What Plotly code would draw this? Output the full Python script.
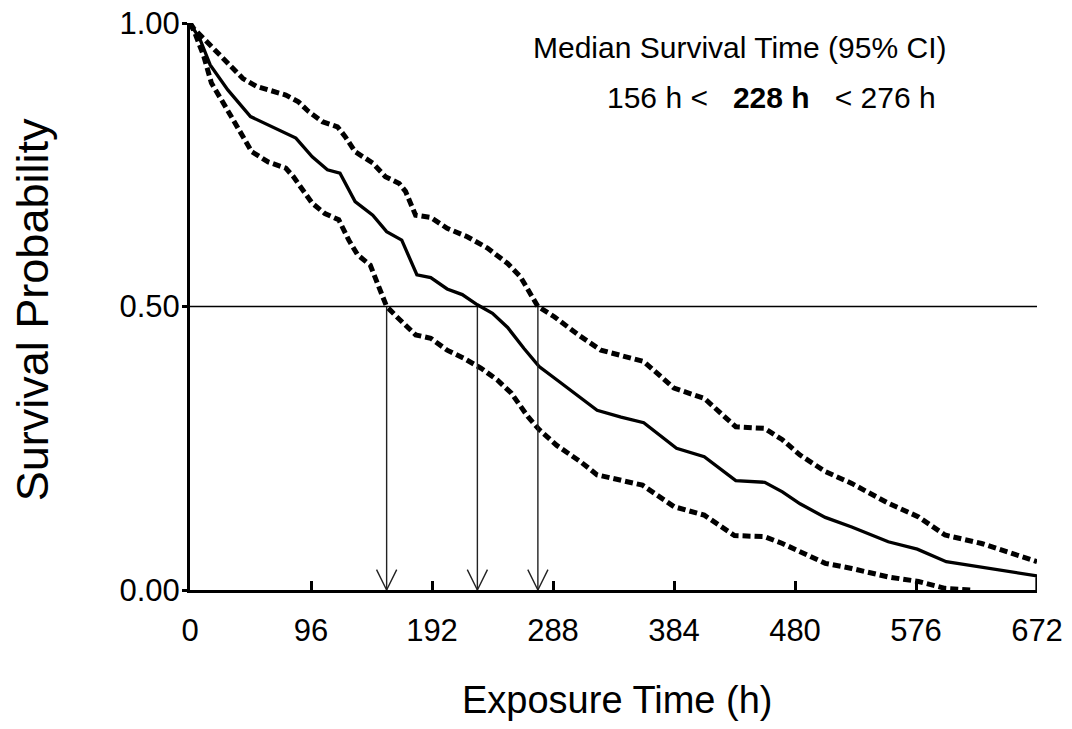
import plotly.graph_objects as go

# ---------------- data ----------------
x_ticks = [0, 96, 192, 288, 384, 480, 576, 672]
y_ticks = [0.0, 0.5, 1.0]
y_tick_labels = ["0.00", "0.50", "1.00"]

median_t = [0, 8, 16, 30, 48, 68, 84, 97, 109, 119, 131, 145, 156, 168, 180, 191, 204, 216,
            228, 240, 252, 265, 277, 292, 305, 323, 342, 360, 386, 408, 433, 456, 470, 484,
            504, 525, 554, 577, 600, 672, 672]
median_s = [1.0, 0.971, 0.926, 0.882, 0.835, 0.814, 0.797, 0.764, 0.741, 0.735, 0.685, 0.661,
            0.632, 0.617, 0.556, 0.551, 0.531, 0.521, 0.503, 0.488, 0.463, 0.426, 0.394, 0.369,
            0.347, 0.317, 0.305, 0.295, 0.250, 0.235, 0.193, 0.190, 0.173, 0.152, 0.128, 0.111,
            0.085, 0.072, 0.050, 0.025, 0.0]

upper_t = [0, 3, 12, 25, 42, 53, 65, 76, 86, 94, 105, 117, 123, 131, 145, 155, 166, 171, 179,
           191, 204, 220, 236, 252, 262, 276, 289, 308, 326, 345, 360, 384, 408, 433, 456, 470,
           484, 504, 525, 554, 578, 599, 628, 672]
upper_s = [1.0, 0.990, 0.970, 0.941, 0.902, 0.888, 0.879, 0.873, 0.861, 0.844, 0.826, 0.817,
           0.800, 0.773, 0.753, 0.729, 0.717, 0.703, 0.661, 0.657, 0.638, 0.623, 0.603, 0.576,
           0.553, 0.500, 0.482, 0.450, 0.423, 0.411, 0.403, 0.356, 0.338, 0.288, 0.285, 0.265,
           0.238, 0.209, 0.188, 0.153, 0.129, 0.097, 0.082, 0.050]

lower_t = [0, 4, 11, 17, 28, 40, 49, 62, 76, 82, 89, 97, 107, 118, 126, 133, 143, 150, 156,
           164, 179, 191, 204, 217, 231, 244, 255, 268, 277, 291, 310, 323, 342, 359, 384, 408,
           432, 456, 470, 484, 504, 525, 554, 578, 599, 620]
lower_s = [1.0, 0.982, 0.941, 0.894, 0.853, 0.806, 0.773, 0.755, 0.744, 0.729, 0.706, 0.682,
           0.664, 0.653, 0.617, 0.591, 0.573, 0.535, 0.500, 0.482, 0.450, 0.444, 0.423, 0.409,
           0.391, 0.370, 0.347, 0.306, 0.283, 0.255, 0.226, 0.203, 0.194, 0.185, 0.147, 0.132,
           0.096, 0.094, 0.082, 0.068, 0.047, 0.038, 0.023, 0.015, 0.003, 0.0]

median_time = 228
ci_low = 156
ci_high = 276
median_level = 0.5

# ---------------- figure ----------------
SANS = "Liberation Sans, Arial, Helvetica, sans-serif"

fig = go.Figure()

fig.add_trace(go.Scatter(x=upper_t, y=upper_s, mode="lines", cliponaxis=False,
                         line=dict(color="black", width=5, dash="8px,4px"), hoverinfo="skip"))
fig.add_trace(go.Scatter(x=lower_t, y=lower_s, mode="lines", cliponaxis=False,
                         line=dict(color="black", width=5, dash="8px,4px"), hoverinfo="skip"))
fig.add_trace(go.Scatter(x=median_t, y=median_s, mode="lines", cliponaxis=False,
                         line=dict(color="black", width=3.3), hoverinfo="skip"))

# horizontal reference line at 0.5
fig.add_shape(type="line", xref="x", yref="y", x0=0, x1=x_ticks[-1] + 4,
              y0=median_level, y1=median_level, line=dict(color="black", width=1.3))

# vertical arrows with open heads
head_dx = 8
head_dy = 0.036
for m in [ci_low, median_time, ci_high]:
    fig.add_trace(go.Scatter(x=[m, m], y=[median_level, 0], mode="lines", cliponaxis=False,
                             line=dict(color="#222", width=1.4), hoverinfo="skip"))
    fig.add_trace(go.Scatter(x=[m - head_dx, m, m + head_dx], y=[head_dy, 0, head_dy],
                             mode="lines", cliponaxis=False,
                             line=dict(color="#222", width=1.4), hoverinfo="skip"))

fig.add_annotation(xref="paper", yref="paper", x=0.649, y=0.956,
                   xanchor="center", yanchor="middle",
                   text="Median Survival Time (95% CI)", showarrow=False,
                   font=dict(family=SANS, size=30, color="black"))
fig.add_annotation(xref="paper", yref="paper", x=0.687, y=0.869,
                   xanchor="center", yanchor="middle",
                   text=f"{ci_low} h &lt;   <b>{median_time} h</b>   &lt; {ci_high} h",
                   showarrow=False,
                   font=dict(family=SANS, size=30, color="black"))

# axis titles
fig.add_annotation(xref="paper", yref="paper", x=0.504, y=-0.194,
                   xanchor="center", yanchor="middle",
                   text="Exposure Time (h)", showarrow=False,
                   font=dict(family=SANS, size=38, color="black"))
fig.add_annotation(xref="paper", yref="paper", x=-0.185, y=0.494, xanchor="center",
                   yanchor="middle", textangle=-90,
                   text="Survival Probability", showarrow=False,
                   font=dict(family=SANS, size=45, color="black"))

fig.update_layout(
    width=1072, height=729,
    margin=dict(l=190, r=35, t=23, b=139),
    paper_bgcolor="white", plot_bgcolor="white",
    showlegend=False,
    xaxis=dict(range=[0, 672], tickvals=x_ticks, ticktext=[str(v) for v in x_ticks],
               ticks="inside", ticklen=9, tickwidth=3, tickcolor="black",
               showline=True, linewidth=3, linecolor="black", showgrid=False, zeroline=False,
               ticklabelstandoff=11, automargin=False,
               tickfont=dict(family=SANS, size=31, color="black")),
    yaxis=dict(range=[0, 1], tickvals=y_ticks, ticktext=y_tick_labels,
               ticks="outside", ticklen=5, tickwidth=3, tickcolor="black",
               showline=True, linewidth=3, linecolor="black", showgrid=False, zeroline=False,
               automargin=False, ticklabelstandoff=-4,
               tickfont=dict(family=SANS, size=31, color="black")),
)

fig.write_html("out.html")
